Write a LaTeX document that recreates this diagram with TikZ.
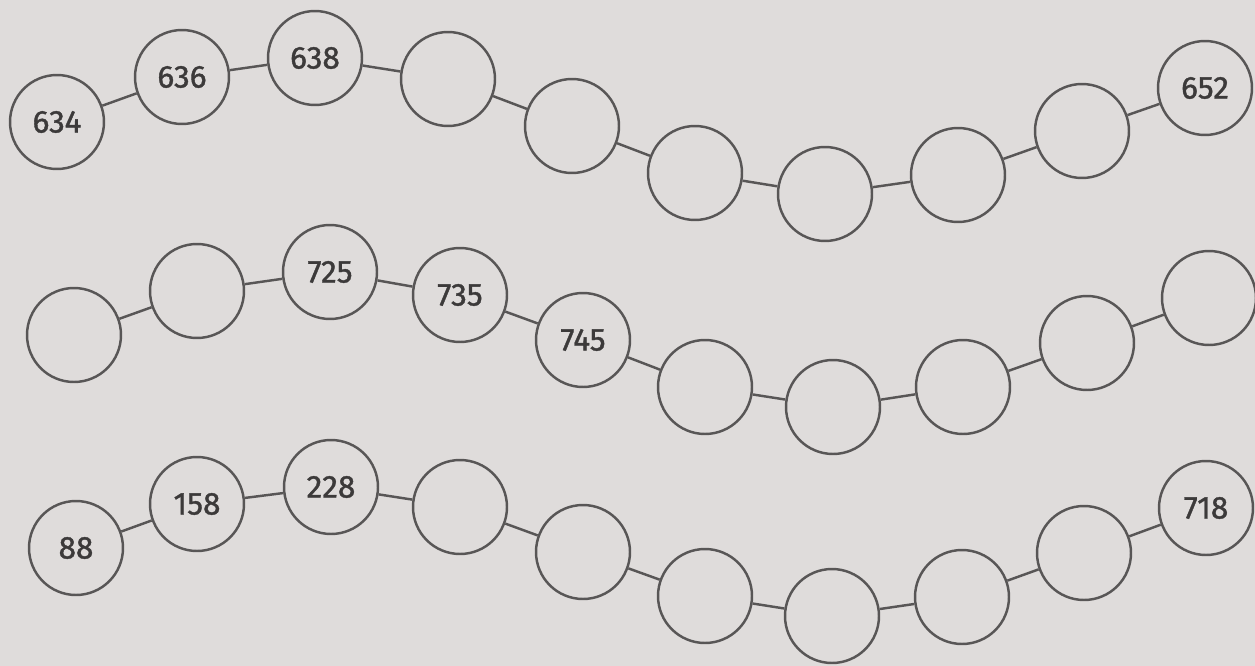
\documentclass[tikz,border=0pt]{standalone}
\usepackage{fontspec}
\setmainfont{Fira Sans}
\newfontfamily\beadfont[FakeBold=1.2]{Fira Sans}
\usepackage{xcolor}
\definecolor{paper}{RGB}{223,220,219}
\definecolor{ink}{RGB}{88,86,86}
\definecolor{digit}{RGB}{60,58,58}

\begin{document}
\begin{tikzpicture}[x=0.02cm,y=-0.02cm,
  bead/.style={draw=ink,circle,line width=1.4pt,minimum size=1.88cm,inner sep=0pt,
               font=\beadfont\fontsize{18}{20}\selectfont,text=digit},
  link/.style={draw=ink,line width=1.4pt}]
  \fill[paper] (0,0) rectangle (1255,666);
  \useasboundingbox (0,0) rectangle (1255,666);
  % first row
  \node[bead] (a1) at (57,122) {634};
  \node[bead] (a2) at (182,77) {636};
  \node[bead] (a3) at (315,58) {638};
  \node[bead] (a4) at (448,79) {};
  \node[bead] (a5) at (572,126) {};
  \node[bead] (a6) at (695,173) {};
  \node[bead] (a7) at (825,194) {};
  \node[bead] (a8) at (958,175) {};
  \node[bead] (a9) at (1082,131) {};
  \node[bead] (a10) at (1205,88) {652};
  % second row
  \node[bead] (b1) at (74,335) {};
  \node[bead] (b2) at (197,291) {};
  \node[bead] (b3) at (330,272) {725};
  \node[bead] (b4) at (460,295) {735};
  \node[bead] (b5) at (583,340) {745};
  \node[bead] (b6) at (705,387) {};
  \node[bead] (b7) at (833,407) {};
  \node[bead] (b8) at (963,387) {};
  \node[bead] (b9) at (1087,343) {};
  \node[bead] (b10) at (1209,298) {};
  % third row
  \node[bead] (c1) at (76,548) {88};
  \node[bead] (c2) at (197,504) {158};
  \node[bead] (c3) at (331,487) {228};
  \node[bead] (c4) at (460,507) {};
  \node[bead] (c5) at (583,552) {};
  \node[bead] (c6) at (705,596) {};
  \node[bead] (c7) at (832,616) {};
  \node[bead] (c8) at (962,597) {};
  \node[bead] (c9) at (1084,553) {};
  \node[bead] (c10) at (1206,508) {718};
  % links
  \draw[link] (a1) -- (a2) -- (a3) -- (a4) -- (a5) -- (a6) -- (a7) -- (a8) -- (a9) -- (a10);
  \draw[link] (b1) -- (b2) -- (b3) -- (b4) -- (b5) -- (b6) -- (b7) -- (b8) -- (b9) -- (b10);
  \draw[link] (c1) -- (c2) -- (c3) -- (c4) -- (c5) -- (c6) -- (c7) -- (c8) -- (c9) -- (c10);
\end{tikzpicture}
\end{document}
